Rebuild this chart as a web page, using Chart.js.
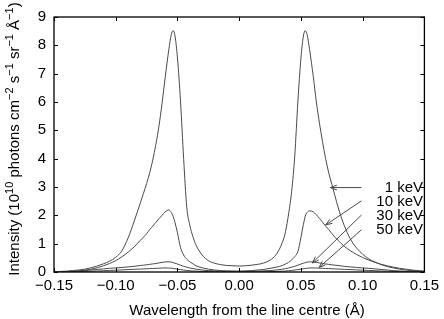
<!DOCTYPE html>
<html>
<head>
<meta charset="utf-8">
<script src="https://cdn.jsdelivr.net/npm/chart.js@4.4.1/dist/chart.umd.min.js"></script>
<style>
  html, body { margin: 0; padding: 0; background: #fff; }
  #grafico { display: block; }
</style>
</head>
<body>
<canvas id="grafico" width="444" height="319"></canvas>
<script>
// ---------------------------------------------------------------------------
// Dados
// ---------------------------------------------------------------------------
const wavelength = [
  -0.150, -0.145, -0.140, -0.135, -0.130, -0.125, -0.120, -0.115, -0.110, -0.105,
  -0.100, -0.095, -0.090, -0.085, -0.080, -0.0775, -0.075, -0.0725, -0.070, -0.0675,
  -0.065, -0.0625, -0.060, -0.057, -0.055, -0.0535, -0.052, -0.050, -0.0475, -0.045,
  -0.0425, -0.040, -0.0375, -0.035, -0.030, -0.025, -0.020, -0.015, -0.010, -0.005,
  0.000,
  0.005, 0.010, 0.015, 0.020, 0.025, 0.030, 0.035, 0.0375, 0.040, 0.0425,
  0.045, 0.0475, 0.050, 0.052, 0.0535, 0.055, 0.057, 0.060, 0.0625, 0.065,
  0.0675, 0.070, 0.0725, 0.075, 0.0775, 0.080, 0.085, 0.090, 0.095, 0.100,
  0.105, 0.110, 0.115, 0.120, 0.125, 0.130, 0.135, 0.140, 0.145, 0.150
];

const intensity1keV = [
  0.01, 0.02, 0.03, 0.05, 0.07, 0.10, 0.15, 0.21, 0.29, 0.38,
  0.52, 0.75, 1.20, 1.80, 2.45, 2.78, 3.12, 3.50, 3.95, 4.50,
  5.15, 5.95, 6.85, 7.85, 8.38, 8.52, 8.33, 7.55, 6.00, 4.00,
  2.30, 1.65, 1.25, 0.95, 0.60, 0.40, 0.31, 0.26, 0.23, 0.22,
  0.21,
  0.22, 0.24, 0.27, 0.32, 0.42, 0.62, 1.05, 1.42, 2.05, 2.85,
  4.10, 6.00, 7.55, 8.33, 8.52, 8.38, 7.85, 6.90, 6.00, 5.25,
  4.60, 4.00, 3.50, 3.10, 2.70, 2.30, 1.65, 1.17, 0.85, 0.63,
  0.46, 0.35, 0.26, 0.19, 0.14, 0.10, 0.07, 0.05, 0.03, 0.02
];

const intensity10keV = [
  0.005, 0.01, 0.015, 0.025, 0.04, 0.065, 0.10, 0.15, 0.22, 0.30,
  0.40, 0.54, 0.70, 0.89, 1.12, 1.23, 1.35, 1.50, 1.62, 1.75,
  1.88, 2.00, 2.12, 2.19, 2.10, 1.96, 1.75, 1.38, 0.86, 0.60,
  0.45, 0.36, 0.29, 0.22, 0.15, 0.10, 0.07, 0.05, 0.04, 0.035,
  0.03,
  0.04, 0.05, 0.07, 0.09, 0.13, 0.17, 0.23, 0.28, 0.34, 0.43,
  0.54, 0.72, 1.22, 1.68, 1.97, 2.10, 2.16, 2.12, 2.02, 1.89,
  1.76, 1.62, 1.50, 1.36, 1.23, 1.12, 0.91, 0.75, 0.62, 0.51,
  0.42, 0.34, 0.27, 0.22, 0.17, 0.13, 0.10, 0.07, 0.05, 0.03
];

const intensity30keV = [
  0.005, 0.01, 0.015, 0.025, 0.035, 0.05, 0.07, 0.09, 0.11, 0.13,
  0.145, 0.16, 0.18, 0.20, 0.23, 0.24, 0.255, 0.27, 0.285, 0.30,
  0.32, 0.34, 0.355, 0.36, 0.35, 0.33, 0.31, 0.28, 0.24, 0.20,
  0.17, 0.14, 0.12, 0.10, 0.07, 0.05, 0.04, 0.03, 0.025, 0.02,
  0.02,
  0.02, 0.025, 0.03, 0.04, 0.05, 0.07, 0.10, 0.12, 0.14, 0.17,
  0.20, 0.24, 0.28, 0.31, 0.33, 0.35, 0.36, 0.355, 0.34, 0.32,
  0.30, 0.285, 0.27, 0.255, 0.24, 0.23, 0.20, 0.18, 0.16, 0.145,
  0.13, 0.11, 0.09, 0.07, 0.05, 0.035, 0.025, 0.015, 0.01, 0.005
];

const intensity50keV = [
  0.003, 0.005, 0.007, 0.01, 0.015, 0.02, 0.028, 0.035, 0.045, 0.055,
  0.065, 0.075, 0.085, 0.095, 0.105, 0.11, 0.115, 0.12, 0.125, 0.13,
  0.135, 0.14, 0.145, 0.14, 0.135, 0.125, 0.115, 0.10, 0.085, 0.07,
  0.055, 0.045, 0.035, 0.03, 0.02, 0.015, 0.01, 0.008, 0.006, 0.005,
  0.005,
  0.005, 0.006, 0.008, 0.01, 0.015, 0.02, 0.03, 0.035, 0.045, 0.055,
  0.07, 0.085, 0.10, 0.115, 0.125, 0.135, 0.14, 0.145, 0.14, 0.135,
  0.13, 0.125, 0.12, 0.115, 0.11, 0.105, 0.095, 0.085, 0.075, 0.065,
  0.055, 0.045, 0.035, 0.028, 0.02, 0.015, 0.01, 0.007, 0.005, 0.003
];

const seriesLabels = ["1 keV", "10 keV", "30 keV", "50 keV"];
const seriesValues = [intensity1keV, intensity10keV, intensity30keV, intensity50keV];

// setas das legendas: [cauda x, cauda y, ponta x, ponta y] em coordenadas de dados
const arrowTargets = [
  [0.0990, 2.98, 0.0738, 2.98],
  [0.0990, 2.51, 0.0700, 1.66],
  [0.0990, 2.01, 0.0593, 0.32],
  [0.0990, 1.49, 0.0647, 0.16]
];

const FONTE = "'Liberation Sans', Arial, Helvetica, sans-serif";
const COR_LINHA = "#4a4a4a";

function formatarNumero(v) {
  const s = Number(v).toFixed(2);
  return s.replace("-", "\u2212");
}

// ---------------------------------------------------------------------------
// Plugin: moldura, ticks para dentro, títulos e setas
// ---------------------------------------------------------------------------
const decoracoes = {
  id: "decoracoes",
  afterDraw(chart) {
    const ctx = chart.ctx;
    const area = chart.chartArea;
    const sx = chart.scales.x;
    const sy = chart.scales.y;

    ctx.save();

    // moldura
    ctx.strokeStyle = "#000";
    ctx.lineWidth = 1.3;
    ctx.strokeRect(area.left, area.top, area.right - area.left, area.bottom - area.top);

    // ticks para dentro nos quatro lados
    ctx.lineWidth = 1;
    ctx.beginPath();
    sx.ticks.forEach(t => {
      const px = Math.round(sx.getPixelForValue(t.value)) + 0.5;
      ctx.moveTo(px, area.bottom);
      ctx.lineTo(px, area.bottom - 4);
      ctx.moveTo(px, area.top);
      ctx.lineTo(px, area.top + 4);
    });
    sy.ticks.forEach(t => {
      const py = Math.round(sy.getPixelForValue(t.value)) + 0.5;
      ctx.moveTo(area.left, py);
      ctx.lineTo(area.left + 4, py);
      ctx.moveTo(area.right, py);
      ctx.lineTo(area.right - 4, py);
    });
    ctx.stroke();

    // título do eixo x
    ctx.fillStyle = "#000";
    ctx.font = "15px " + FONTE;
    ctx.textAlign = "center";
    ctx.textBaseline = "alphabetic";
    ctx.fillText("Wavelength from the line centre (\u00C5)", 247, 315);

    // título do eixo y com expoentes
    const partes = [
      ["Intensity (10", false], ["10", true], [" photons cm", false], ["\u22122", true],
      [" s", false], ["\u22121", true], [" sr", false], ["\u22121", true],
      [" \u00C5", false], ["\u22121", true], [")", false]
    ];
    const fonteNormal = "15px " + FONTE;
    const fonteSup = "11px " + FONTE;
    let total = 0;
    partes.forEach(([txt, sup]) => {
      ctx.font = sup ? fonteSup : fonteNormal;
      total += ctx.measureText(txt).width;
    });
    ctx.translate(19, 139 + total / 2);
    ctx.rotate(-Math.PI / 2);
    ctx.textAlign = "left";
    let cursor = 0;
    partes.forEach(([txt, sup]) => {
      ctx.font = sup ? fonteSup : fonteNormal;
      ctx.fillText(txt, cursor, sup ? -6 : 0);
      cursor += ctx.measureText(txt).width;
    });
    ctx.setTransform(1, 0, 0, 1, 0, 0);

    // setas e rótulos das séries
    ctx.strokeStyle = COR_LINHA;
    ctx.lineWidth = 1;
    arrowTargets.forEach((a, i) => {
      const x0 = sx.getPixelForValue(a[0]);
      const y0 = sy.getPixelForValue(a[1]);
      const x1 = sx.getPixelForValue(a[2]);
      const y1 = sy.getPixelForValue(a[3]);
      const ang = Math.atan2(y1 - y0, x1 - x0);
      ctx.beginPath();
      ctx.moveTo(x0, y0);
      ctx.lineTo(x1, y1);
      ctx.moveTo(x1 - 7 * Math.cos(ang - 0.35), y1 - 7 * Math.sin(ang - 0.35));
      ctx.lineTo(x1, y1);
      ctx.lineTo(x1 - 7 * Math.cos(ang + 0.35), y1 - 7 * Math.sin(ang + 0.35));
      ctx.stroke();

      ctx.fillStyle = "#000";
      ctx.font = "15px " + FONTE;
      ctx.textAlign = "right";
      ctx.textBaseline = "middle";
      ctx.fillText(seriesLabels[i], 423, y0 + 0.5);
    });

    ctx.restore();
  }
};

// ---------------------------------------------------------------------------
// Gráfico
// ---------------------------------------------------------------------------
const datasets = seriesValues.map((valores, i) => ({
  label: seriesLabels[i],
  data: wavelength.map((x, j) => ({ x: x, y: valores[j] })),
  showLine: true,
  borderColor: COR_LINHA,
  borderWidth: 1,
  pointRadius: 0,
  cubicInterpolationMode: "monotone",
  fill: false
}));

new Chart(document.getElementById("grafico").getContext("2d"), {
  type: "scatter",
  data: { datasets: datasets },
  options: {
    responsive: false,
    animation: false,
    events: [],
    layout: { padding: { left: 0, right: 15, top: 14, bottom: 0 } },
    plugins: {
      legend: { display: false },
      tooltip: { enabled: false }
    },
    scales: {
      x: {
        type: "linear",
        min: -0.15,
        max: 0.15,
        grid: { display: false, drawTicks: false },
        border: { display: false },
        ticks: {
          stepSize: 0.05,
          padding: 5,
          color: "#000",
          font: { family: FONTE, size: 15 },
          maxRotation: 0,
          callback: v => formatarNumero(v)
        },
        afterFit: scale => { scale.height = 47; }
      },
      y: {
        type: "linear",
        min: 0,
        max: 9,
        grid: { display: false, drawTicks: false },
        border: { display: false },
        ticks: {
          stepSize: 1,
          padding: 8,
          color: "#000",
          font: { family: FONTE, size: 15 },
          callback: v => String(v)
        },
        afterFit: scale => { scale.width = 54; }
      }
    }
  },
  plugins: [decoracoes]
});
</script>
</body>
</html>
